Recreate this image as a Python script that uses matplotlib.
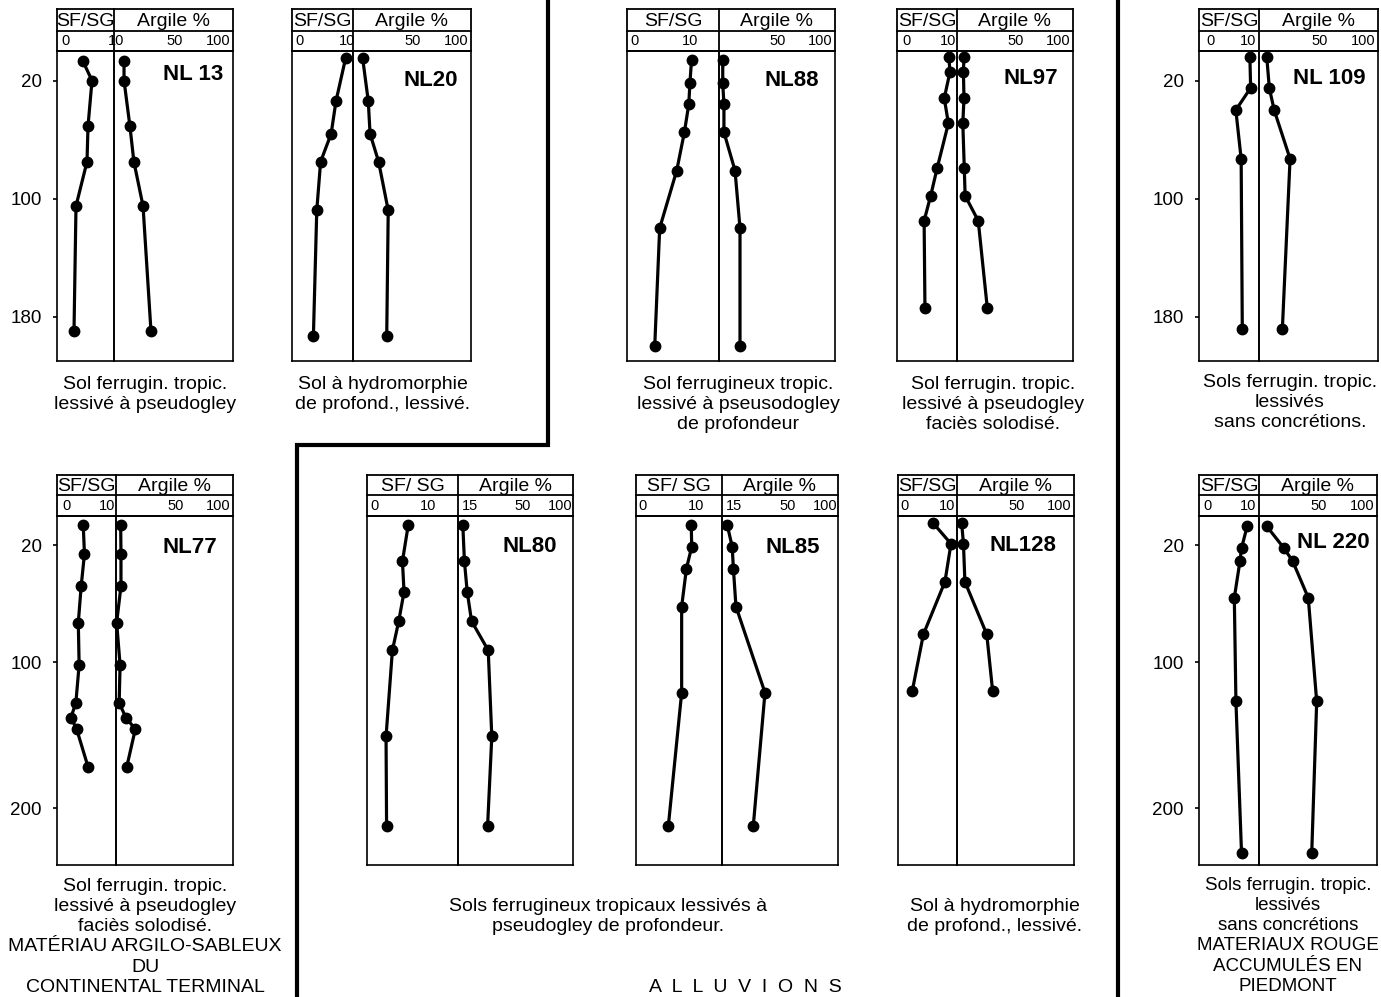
import matplotlib
matplotlib.use("Agg")
import matplotlib.pyplot as plt
from matplotlib.ticker import NullLocator

plt.rcParams['font.family'] = ['Liberation Sans', 'DejaVu Sans']

W, H = 1381, 997

# ---- data read from the profiles: depth (cm), SF/SG ratio, clay (Argile %) ----
nl13_depth = [7, 20, 51, 75, 105, 190]
nl13_sf = [3.4, 5.2, 4.4, 4.2, 2.0, 1.6]
nl13_ar = [22.3, 22.3, 24.5, 26.1, 30.2, 34.3]

nl20_depth = [5, 34, 56, 75, 108, 193]
nl20_sf = [9.7, 7.7, 6.7, 4.5, 3.7, 3.0]
nl20_ar = [22.2, 24.3, 25.0, 28.7, 33.5, 32.7]

nl88_depth = [6, 22, 36, 55, 81, 120, 200]
nl88_sf = [10.3, 10.0, 9.8, 9.0, 7.6, 4.5, 3.6]
nl88_ar = [20.2, 20.2, 20.6, 20.6, 24.7, 26.8, 26.8]

nl97_depth = [4, 14, 32, 49, 79, 98, 115, 174]
nl97_sf = [10.2, 10.5, 9.1, 10.1, 7.4, 5.8, 4.2, 4.4]
nl97_ar = [21.3, 21.1, 21.3, 20.9, 21.4, 21.7, 26.9, 31.2]

nl109_depth = [4, 25, 40, 73, 188]
nl109_sf = [10.5, 10.7, 6.8, 8.2, 8.5]
nl109_ar = [21.5, 22.4, 24.2, 31.2, 27.6]

nl77_depth = [6, 26, 48, 73, 102, 128, 138, 146, 172]
nl77_sf = [4.2, 4.5, 3.7, 3.0, 3.2, 2.4, 1.2, 2.6, 5.4]
nl77_ar = [20.5, 20.6, 20.6, 19.2, 20.3, 20.0, 22.3, 26.0, 22.6]

nl80_depth = [6, 31, 52, 72, 92, 151, 212]
nl80_sf = [6.3, 5.2, 5.5, 4.5, 3.3, 2.1, 2.2]
nl80_ar = [16.4, 16.9, 17.8, 19.3, 26.3, 28.1, 26.0]

nl85_depth = [6, 21, 36, 62, 121, 212]
nl85_sf = [9.1, 9.2, 8.2, 7.3, 7.3, 4.8]
nl85_ar = [16.5, 18.1, 18.5, 19.4, 33.1, 26.7]

nl128_depth = [5, 19, 45, 81, 120]
nl128_sf = [6.8, 10.9, 9.5, 4.5, 1.9]
nl128_ar = [20.5, 21.1, 21.6, 30.8, 33.9]

nl220_depth = [7, 22, 31, 56, 127, 231]
nl220_sf = [9.8, 8.4, 8.0, 6.6, 7.0, 8.4]
nl220_ar = [21.5, 28.4, 32.7, 42.0, 48.1, 44.4]

names = ["NL 13", "NL20", "NL88", "NL97", "NL 109",
         "NL77", "NL80", "NL85", "NL128", "NL 220"]
depths = [nl13_depth, nl20_depth, nl88_depth, nl97_depth, nl109_depth,
          nl77_depth, nl80_depth, nl85_depth, nl128_depth, nl220_depth]
sf_values = [nl13_sf, nl20_sf, nl88_sf, nl97_sf, nl109_sf,
             nl77_sf, nl80_sf, nl85_sf, nl128_sf, nl220_sf]
ar_values = [nl13_ar, nl20_ar, nl88_ar, nl97_ar, nl109_ar,
             nl77_ar, nl80_ar, nl85_ar, nl128_ar, nl220_ar]

captions = [
    ["Sol ferrugin. tropic.", "lessivé à pseudogley"],
    ["Sol à hydromorphie", "de profond., lessivé."],
    ["Sol ferrugineux tropic.", "lessivé à pseusodogley", "de profondeur"],
    ["Sol ferrugin. tropic.", "lessivé à pseudogley", "faciès solodisé."],
    ["Sols ferrugin. tropic.", "lessivés", "sans concrétions."],
    ["Sol ferrugin. tropic.", "lessivé à pseudogley", "faciès solodisé.",
     "MATÉRIAU ARGILO-SABLEUX", "DU", "CONTINENTAL TERMINAL"],
    ["Sols ferrugineux tropicaux lessivés à", "pseudogley de profondeur."],
    ["Sol à hydromorphie", "de profond., lessivé."],
    ["Sols ferrugin. tropic.", "lessivés", "sans concrétions",
     "MATERIAUX ROUGE", "ACCUMULÉS EN", "PIEDMONT"],
]

# ---- layout (pixels) ----
# box: left edge, divider, right edge
boxes = [(57, 114, 233), (292, 353, 471), (627, 719, 835), (897, 957, 1073),
         (1199, 1259, 1378),
         (57, 116, 233), (367, 458, 573), (636, 722, 838), (898, 957, 1074),
         (1199, 1259, 1377)]
# row: header top, header mid, scale line, bottom, max depth
rows = [(9, 31, 51, 361, 210), (475, 495, 516, 865, 239)]
sf_lims = [(-1.8, 9.6), (-1.46, 11.25), (-1.45, 15.3), (-2.4, 12.2), (-2.9, 12.9),
           (-2.2, 12.2), (-1.5, 15.7), (-1.3, 14.9), (-1.4, 12.3), (-2.2, 12.75)]
ar_lows = [19, 19, 19, 19, 19, 19, 15, 15, 19, 19]
name_pos = [(193, 75), (431, 80), (792, 80), (1031, 79), (1329, 78),
            (190, 547), (530, 546), (793, 547), (1023, 545), (1333, 542)]
caption_pos = [(145, 384), (383, 384), (738, 384), (993, 384), (1290, 382),
               (145, 886), (608, 906), (995, 906), (1288, 885)]
caption_size = [14, 14, 14, 14, 14, 14, 14, 14, 13.5]

fig = plt.figure(figsize=(W / 100, H / 100), dpi=100)
ov = fig.add_axes([0, 0, 1, 1], zorder=-1)
ov.set_xlim(0, W)
ov.set_ylim(H, 0)
ov.axis('off')


def rect(x0, y0, x1, y1):
    return [x0 / W, 1 - y1 / H, (x1 - x0) / W, (y1 - y0) / H]


for i in range(10):
    left, div, right = boxes[i]
    top, mid, sc, bot, dmax = rows[0] if i < 5 else rows[1]

    ax1 = fig.add_axes(rect(left, sc, div, bot))
    ax2 = fig.add_axes(rect(div, sc, right, bot))
    ax2.set_xscale('log')
    ax1.set_xlim(*sf_lims[i])
    ax2.set_xlim(ar_lows[i], 127)
    for ax in (ax1, ax2):
        ax.set_ylim(dmax, 0)
        ax.set_xticks([])
        ax.xaxis.set_minor_locator(NullLocator())
        ax.set_yticks([])
        ax.patch.set_alpha(0)
        for s in ax.spines.values():
            s.set_linewidth(1.2)

    ax1.plot(sf_values[i], depths[i], '-o', color='black', lw=2.3, ms=7.5, clip_on=False)
    ax2.plot(ar_values[i], depths[i], '-o', color='black', lw=2.3, ms=7.5, clip_on=False)

    if i in (0, 4, 5, 9):
        ticks = [20, 100, 180] if i < 5 else [20, 100, 200]
        ax1.set_yticks(ticks)
        ax1.set_yticklabels([str(t) for t in ticks])
        ax1.tick_params(axis='y', length=3, width=1.2, pad=8, labelsize=13.5,
                        direction='out')

    # header box
    for y in (top, mid, sc):
        ov.plot([left, right], [y, y], color='black', lw=1.3)
    for x in (left, div, right):
        ov.plot([x, x], [top, sc], color='black', lw=1.3)
    ov.text((left + div) / 2, (top + mid) / 2 + 1, "SF/SG" if i not in (6, 7) else "SF/ SG",
            ha='center', va='center', fontsize=14)
    ov.text((div + right) / 2, (top + mid) / 2 + 1, "Argile %",
            ha='center', va='center', fontsize=14)

    # scale labels
    kw = dict(xycoords=('data', 'axes fraction'), textcoords='offset points',
              va='bottom', fontsize=10.5, annotation_clip=False)
    ax1.annotate("0", xy=(0, 1), xytext=(0, 2.5), ha='center', **kw)
    ax1.annotate("10", xy=(10, 1), xytext=(0, 2.5), ha='center', **kw)
    if ar_lows[i] == 15:
        ax2.annotate("15", xy=(15, 1), xytext=(3, 2.5), ha='left', **kw)
    ax2.annotate("50", xy=(50, 1), xytext=(0, 2.5), ha='center', **kw)
    ax2.annotate("100", xy=(100, 1), xytext=(0, 2.5), ha='center', **kw)

    nx, ny = name_pos[i]
    ov.text(nx, ny, names[i], ha='center', va='center', fontsize=16,
            fontweight='bold')

# captions
for (cx, cy), lines, fs in zip(caption_pos, captions, caption_size):
    for k, line in enumerate(lines):
        ov.text(cx, cy + 20.3 * k, line, ha='center', va='center', fontsize=fs)

ov.text(745, 987, "A  L  L  U  V  I  O  N  S", ha='center', va='center', fontsize=14)

# thick separating lines
ov.plot([548, 548, 297, 297], [0, 445, 445, H], color='black', lw=3,
        solid_joinstyle='miter')
ov.plot([1118, 1118], [0, H], color='black', lw=3)

fig.savefig("out.png", dpi=100)
